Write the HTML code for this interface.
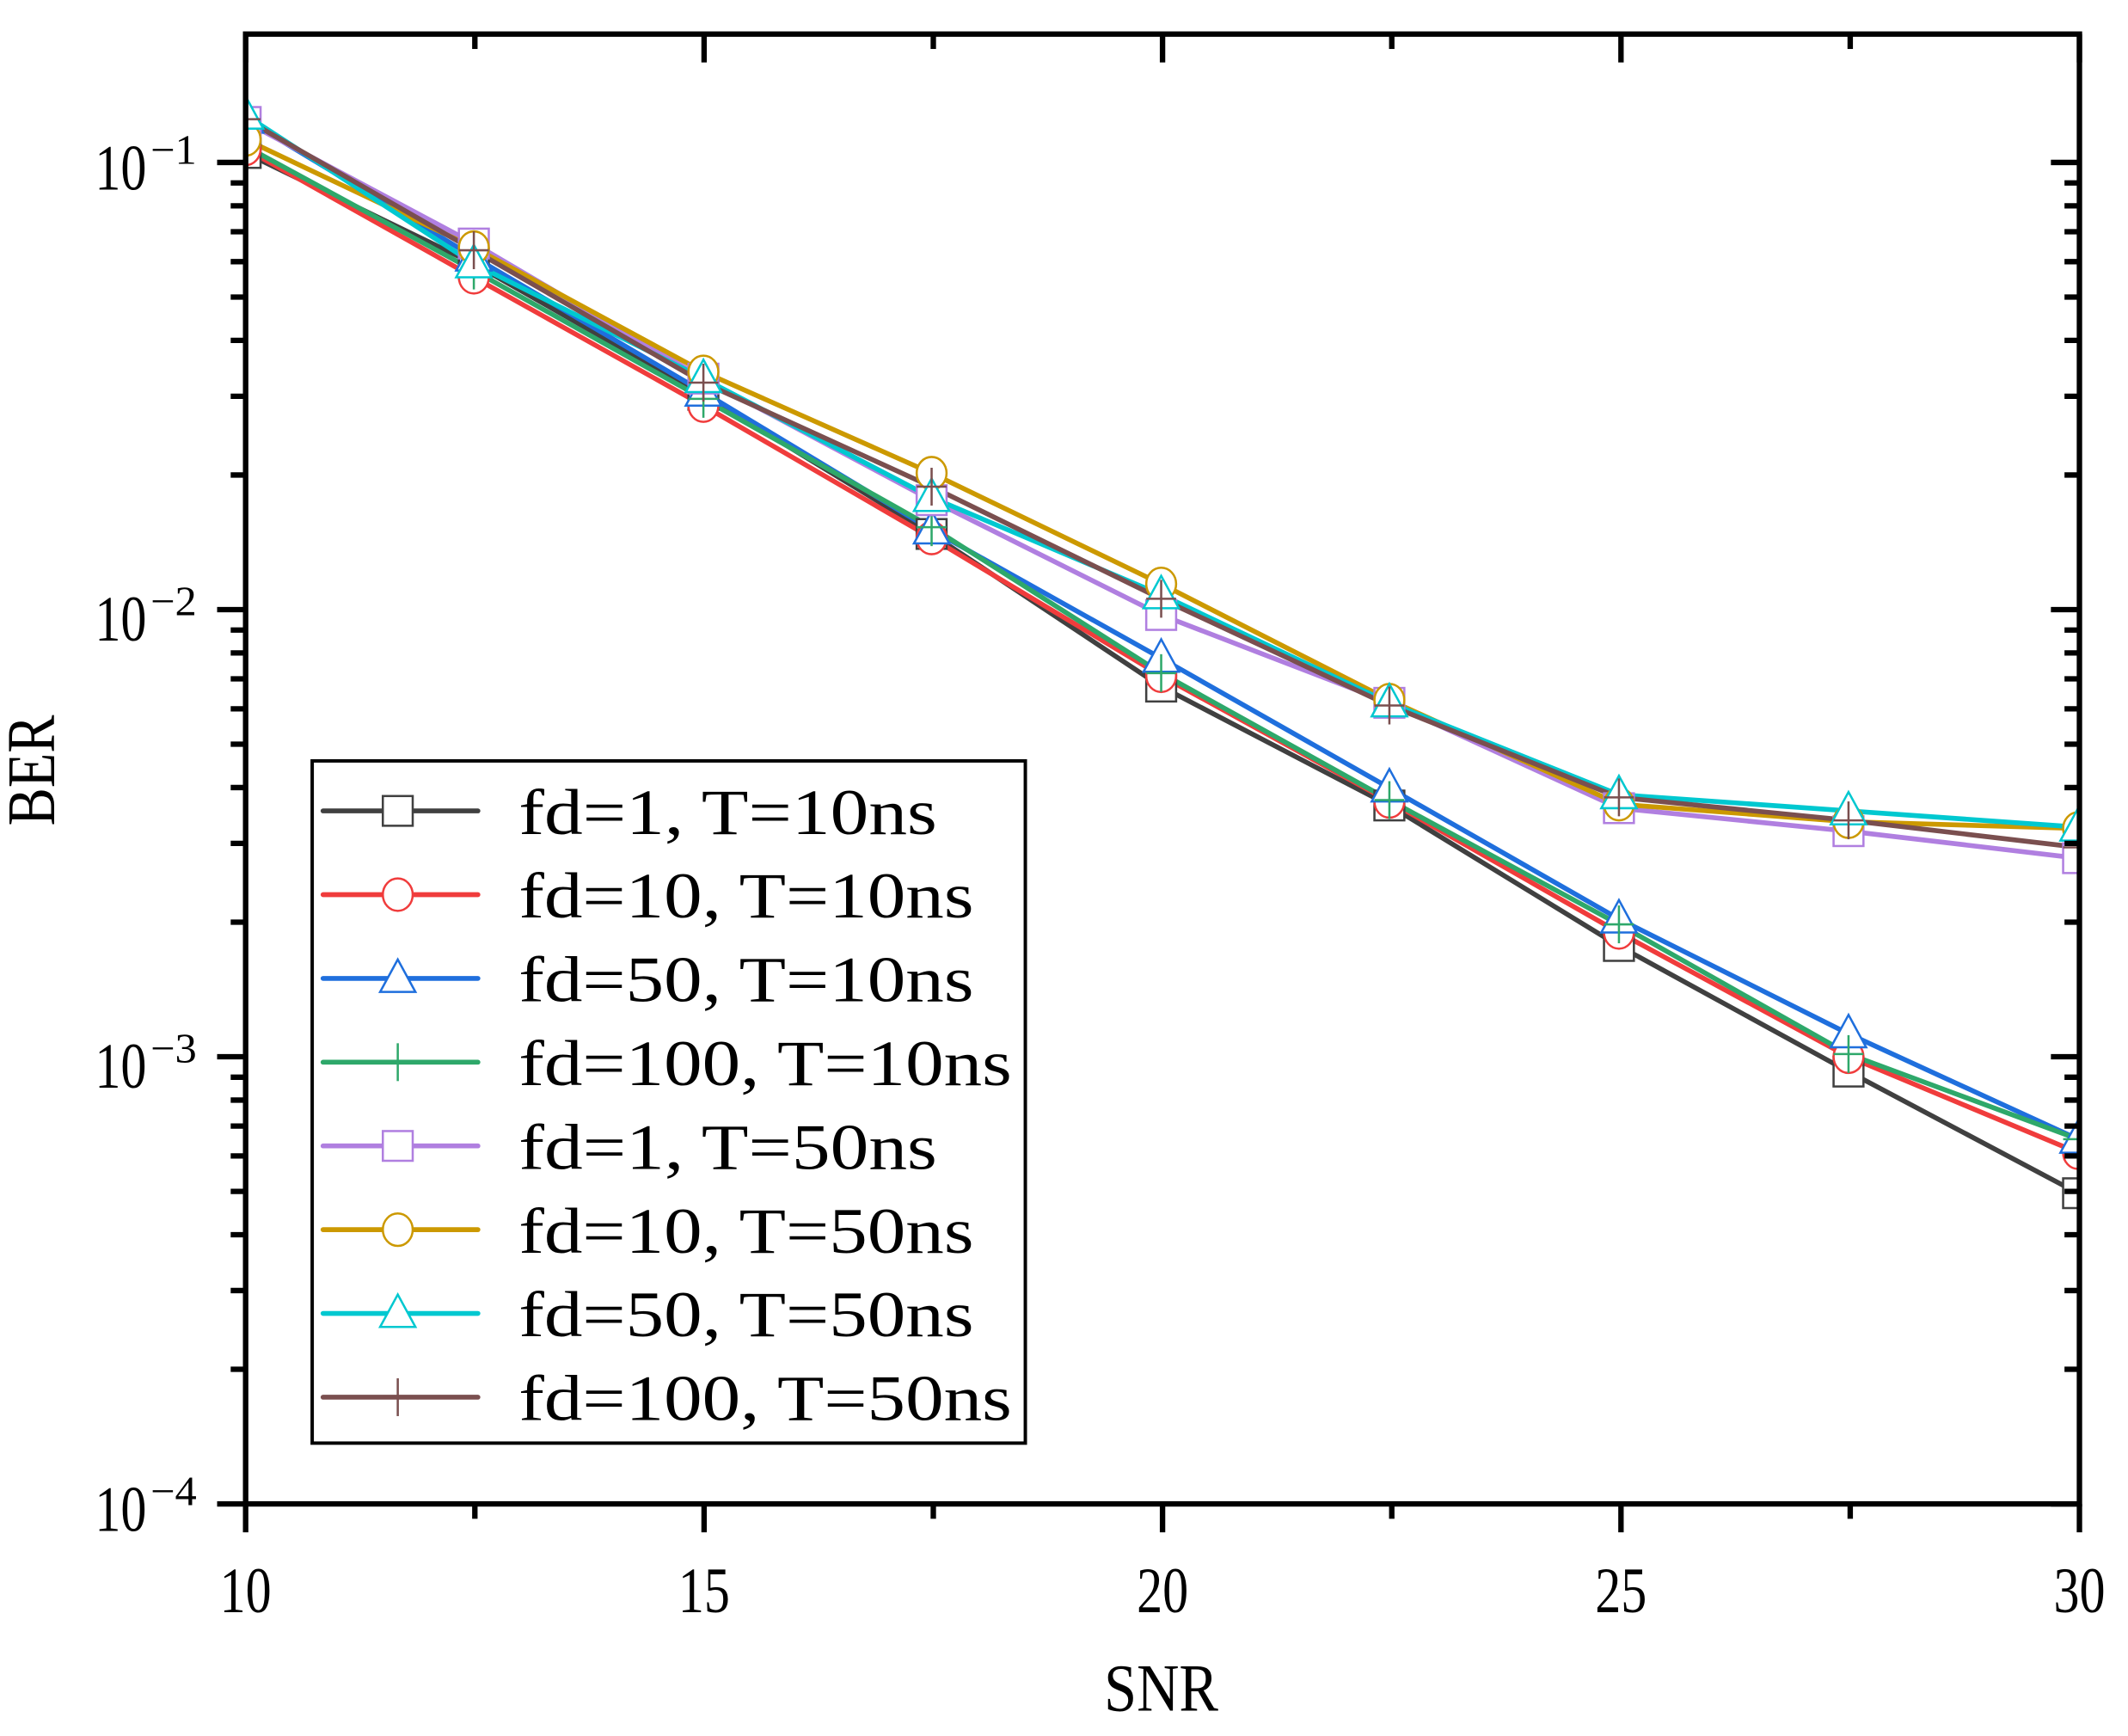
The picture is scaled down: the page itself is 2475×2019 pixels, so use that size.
<!DOCTYPE html>
<html><head><meta charset="utf-8"><style>html,body{margin:0;padding:0;background:#fff}svg{display:block}</style></head>
<body>
<svg id="s" xmlns="http://www.w3.org/2000/svg" width="2475" height="2019" viewBox="0 0 1559.5 1272.2">
<rect width="1559.5" height="1272.2" fill="#fff"/>
<g transform="translate(180,25) scale(0.9955,0.990) translate(-181,-25)">
<g id="plot"></g>
<g id="ax" stroke="#000" stroke-width="4" fill="none"></g>
<g font-family="Liberation Serif, serif" fill="#000">
<g id="lbl"></g>
<text x="40" y="570" font-size="50" text-anchor="middle" transform="rotate(-90 40 570)" textLength="82" lengthAdjust="spacingAndGlyphs">BER</text>
<text x="855" y="1266" font-size="50" text-anchor="middle" textLength="84" lengthAdjust="spacingAndGlyphs">SNR</text>
</g>
<g id="leg"></g>
</g>
</svg>
<script>
const NS="http://www.w3.org/2000/svg";
function el(p,t,a,txt){const e=document.createElementNS(NS,t);for(const k in a)e.setAttribute(k,a[k]);if(txt!==undefined)e.textContent=txt;p.appendChild(e);return e;}
const L=181,R=1531,T=25,B=1113;
const yv=v=>B-(Math.log10(v)+4)*331;
const xs=[181,349,518,686,855,1023,1192,1361,1530];
const S=[
 ["#404040","sq",[113,195,292,395,508,596,700,793,883],"fd=1, T=10ns",308],
 ["#f03c3c","ci",[110,205,300,398,500,593,690,782,853],"fd=10, T=10ns",335],
 ["#1f6fdd","tr",[88,190,290,392,487,583,680,765,843],"fd=50, T=10ns",335],
 ["#2ea86a","pl",[108,200,295,390,498,592,684,780,843],"fd=100, T=10ns",363],
 ["#b07fe0","sq",[90,180,280,370,455,520,598,615,635],"fd=1, T=50ns",308],
 ["#cc9900","ci",[103,183,275,350,432,518,595,608,613],"fd=10, T=50ns",335],
 ["#00c8d0","tr",[85,195,280,368,440,520,588,600,612],"fd=50, T=50ns",335],
 ["#7a4f4f","pl",[88,185,283,360,443,522,590,607,627],"fd=100, T=50ns",363]];
function mk(g,type,x,y,c){
 const a={stroke:c,"stroke-width":1.6,fill:"#fff"};
 if(type=="sq")el(g,"rect",Object.assign({x:x-11,y:y-11,width:22,height:22},a));
 else if(type=="ci")el(g,"ellipse",Object.assign({cx:x,cy:y,rx:11,ry:12},a));
 else if(type=="tr")el(g,"polygon",Object.assign({points:`${x},${y-14} ${x-13},${y+10} ${x+13},${y+10}`},a));
 else {el(g,"line",{x1:x,y1:y-14,x2:x,y2:y+14,stroke:c,"stroke-width":1.6});el(g,"line",{x1:x-11,y1:y,x2:x+11,y2:y,stroke:c,"stroke-width":1.6});}
}
const P=document.getElementById("plot");
const clip=el(P,"clipPath",{id:"cp"});el(clip,"rect",{x:L,y:T,width:R-L,height:B-T});
const pg=el(P,"g",{"clip-path":"url(#cp)"});
S.forEach(s=>{el(pg,"polyline",{points:xs.map((x,i)=>x+","+s[2][i]).join(" "),fill:"none",stroke:s[0],"stroke-width":3.6,"stroke-linejoin":"round"});});
S.forEach(s=>{xs.forEach((x,i)=>mk(pg,s[1],x,s[2][i],s[0]));});
const A=document.getElementById("ax");
el(A,"rect",{x:L,y:T,width:R-L,height:B-T});
for(let d=-4;d<=-1;d++){for(let m=1;m<=9;m++){const v=m*Math.pow(10,d);const y=yv(v);if(y<T)continue;
 const len=m==1?21:11;el(A,"line",{x1:L-len,y1:y,x2:L,y2:y});el(A,"line",{x1:R,y1:y,x2:R-len,y2:y});}}
for(let m=2;m<=9;m++){const y=yv(m*0.1);if(y>T+2){el(A,"line",{x1:L-11,y1:y,x2:L,y2:y});el(A,"line",{x1:R,y1:y,x2:R-11,y2:y});}}
for(let i=0;i<9;i++){const x=L+(R-L)*i/8;const maj=i%2==0;const len=maj?21:11;
 el(A,"line",{x1:x,y1:B,x2:x,y2:B+len});el(A,"line",{x1:x,y1:T,x2:x,y2:T+len});}
const Lb=document.getElementById("lbl");
[[-1,120],[-2,454],[-3,785],[-4,1113]].forEach(([e,y])=>{
 el(Lb,"text",{x:70,y:y+20,"font-size":48,textLength:38,lengthAdjust:"spacingAndGlyphs"},"10");
 el(Lb,"text",{x:111,y:y+1,"font-size":31,textLength:34,lengthAdjust:"spacingAndGlyphs"},"\u2212"+(-e));
});
[10,15,20,25,30].forEach((v,i)=>{const x=L+(R-L)*i/4;el(Lb,"text",{x:x,y:1193,"font-size":48,"text-anchor":"middle",textLength:38,lengthAdjust:"spacingAndGlyphs"},String(v));});
const G=document.getElementById("leg");
el(G,"rect",{x:230,y:563,width:525,height:505,fill:"#fff",stroke:"#000","stroke-width":2.5});
S.forEach((s,i)=>{const y=600+i*62;
 el(G,"line",{x1:238,y1:y,x2:352,y2:y,stroke:s[0],"stroke-width":3.6,"stroke-linecap":"round"});
 mk(G,s[1],293,y,s[0]);
 el(G,"text",{x:382,y:y+17,"font-size":48,"font-family":"Liberation Serif, serif",textLength:s[4],lengthAdjust:"spacingAndGlyphs"},s[3]);
});
</script>
</body></html>
